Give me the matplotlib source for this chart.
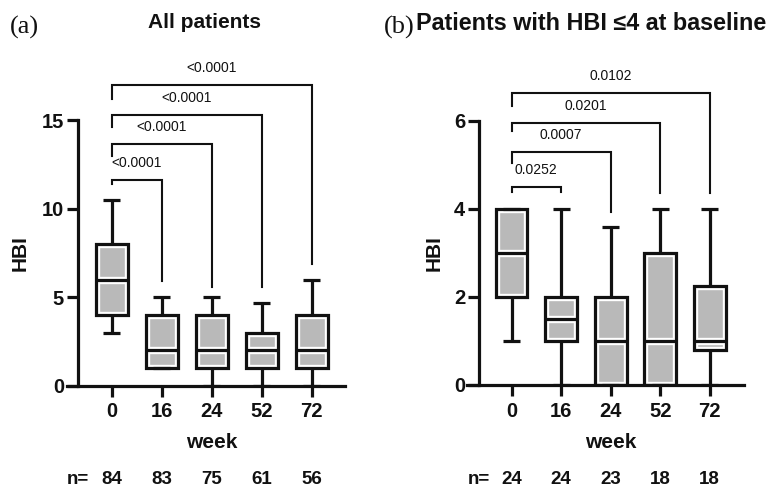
import matplotlib
matplotlib.use('Agg')
import matplotlib.pyplot as plt
import matplotlib.transforms as mtransforms
from matplotlib.patches import PathPatch

plt.rcParams['font.family'] = ['Liberation Sans', 'DejaVu Sans']

# ---------------- data ----------------
weeks = ['0', '16', '24', '52', '72']

a_low = [3, 1, 0, 0, 0]
a_q1 = [4, 1, 1, 1, 1]
a_med = [6, 2, 2, 2, 2]
a_q3 = [8, 4, 4, 3, 4]
a_high = [10.5, 5, 5, 4.7, 6]
a_n = [84, 83, 75, 61, 56]
a_p = ['<0.0001', '<0.0001', '<0.0001', '<0.0001']

b_low = [1, 0, 0, 0, 0]
b_q1 = [2, 1, 0, 0, 0.8]
b_med = [3, 1.5, 1, 1, 1]
b_q3 = [4, 2, 2, 3, 2.25]
b_high = [4, 4, 3.6, 4, 4]
b_n = [24, 24, 23, 18, 18]
b_p = ['0.0252', '0.0007', '0.0201', '0.0102']

# bracket layout (data units)
a_br_y = [11.6, 13.65, 15.3, 17.0]
a_br_left = [11.4, 13.0, 14.6, 16.2]
a_br_right = [5.9, 5.6, 5.6, 6.9]
b_br_y = [4.5, 5.29, 5.95, 6.63]
b_br_left = [4.39, 5.04, 5.77, 6.33]
b_br_right = [4.39, 3.93, 4.36, 4.36]

W, H = 768, 488
fig = plt.figure(figsize=(W / 100, H / 100), dpi=100)

BLACK = '#111111'
GREY = '#b9b9b9'
LW = 2.3
HALO = LW + 3.0


def px(x, y):
    return x / W, 1 - y / H


def panel(rect, low, q1, med, q3, high, n, pvals, bry, brl, brr,
          ymax_spine, ylim_top, yticks, xlim, yspine_x, week_y, n_y):
    ax = fig.add_axes(rect)
    stats = []
    for i in range(len(weeks)):
        stats.append(dict(whislo=low[i], q1=q1[i], med=med[i], q3=q3[i],
                          whishi=high[i], fliers=[]))
    bp = ax.bxp(stats, positions=range(len(weeks)), widths=0.64, capwidths=0.34,
                patch_artist=True, showfliers=False,
                boxprops=dict(facecolor=GREY, edgecolor='white', linewidth=HALO),
                whiskerprops=dict(color=BLACK, linewidth=LW, solid_capstyle='butt'),
                capprops=dict(color=BLACK, linewidth=LW, solid_capstyle='butt'),
                medianprops=dict(color='white', linewidth=HALO, solid_capstyle='butt'))
    for m in bp['medians']:
        m.set_zorder(3)
        xd, yd = m.get_data()
        ax.plot(xd, yd, color=BLACK, lw=LW, solid_capstyle='butt', zorder=3.5)
    for b in bp['boxes']:
        b.set_zorder(1.5)
        ax.add_patch(PathPatch(b.get_path(), fill=False, ec=BLACK, lw=LW,
                               zorder=4, joinstyle='miter'))
    ax.set_xlim(*xlim)
    ax.set_ylim(0, ylim_top)
    for s in ['top', 'right']:
        ax.spines[s].set_visible(False)
    ax.spines['left'].set_position(('data', yspine_x))
    ax.spines['left'].set_bounds(0, ymax_spine)
    for s in ['left', 'bottom']:
        ax.spines[s].set_linewidth(LW)
        ax.spines[s].set_color(BLACK)
        ax.spines[s].set_capstyle('projecting')
    ax.set_yticks(yticks)
    ax.set_xticks(range(len(weeks)))
    ax.set_xticklabels(weeks)
    ax.tick_params(axis='both', length=8, width=LW, color=BLACK,
                   labelsize=14.5, labelcolor=BLACK)
    ax.tick_params(axis='x', pad=4)
    ax.tick_params(axis='y', pad=2)
    for lab in ax.get_xticklabels() + ax.get_yticklabels():
        lab.set_fontweight('bold')

    # brackets
    for i in range(4):
        xr = i + 1
        ax.plot([0, 0, xr, xr], [brl[i], bry[i], bry[i], brr[i]], color=BLACK,
                lw=1.5, clip_on=False, solid_joinstyle='miter', zorder=5)
        ax.annotate(pvals[i], xy=(xr / 2, bry[i]), xytext=(0, 12.3),
                    textcoords='offset points', ha='center', va='center',
                    fontsize=10, color=BLACK, annotation_clip=False)

    tr = mtransforms.blended_transform_factory(ax.transData, fig.transFigure)
    ax.text(2, 1 - week_y / H, 'week', transform=tr, ha='center', va='center',
            fontsize=15, fontweight='bold', color=BLACK)
    ax.text(yspine_x, 1 - n_y / H, 'n=', transform=tr, ha='center', va='center',
            fontsize=13.5, fontweight='bold', color=BLACK)
    for i in range(len(weeks)):
        ax.text(i, 1 - n_y / H, str(n[i]), transform=tr, ha='center', va='center',
                fontsize=13.5, fontweight='bold', color=BLACK)
    return ax


# panel (a)
y0a = 385.7
unit_a = 17.7
top_a = 18
ax1 = panel([67 / W, (H - y0a) / H, 278 / W, top_a * unit_a / H],
            a_low, a_q1, a_med, a_q3, a_high, a_n, a_p, a_br_y, a_br_left, a_br_right,
            15, top_a, [0, 5, 10, 15], (-0.89, 4.67), -0.67, 443, 479)

# panel (b)
y0b = 385.0
unit_b = 44.0
top_b = 7
ax2 = panel([467 / W, (H - y0b) / H, 277 / W, top_b * unit_b / H],
            b_low, b_q1, b_med, b_q3, b_high, b_n, b_p, b_br_y, b_br_left, b_br_right,
            6, top_b, [0, 2, 4, 6], (-0.90, 4.69), -0.66, 443, 479)

# titles and labels
fig.text(*px(10, 27), '(a)', ha='left', va='center', fontsize=19,
         family=['Liberation Serif', 'DejaVu Serif'], color=BLACK)
fig.text(*px(384, 27), '(b)', ha='left', va='center', fontsize=19,
         family=['Liberation Serif', 'DejaVu Serif'], color=BLACK)
fig.text(*px(205, 23), 'All patients', ha='center', va='center', fontsize=15,
         fontweight='bold', color=BLACK)
fig.text(*px(416, 23), 'Patients with HBI ≤4 at baseline', ha='left', va='center',
         fontsize=16.8, fontweight='bold', color=BLACK)
fig.text(*px(20, 253), 'HBI', rotation=90, ha='center', va='center', fontsize=15,
         fontweight='bold', color=BLACK)
fig.text(*px(434, 253), 'HBI', rotation=90, ha='center', va='center', fontsize=15,
         fontweight='bold', color=BLACK)

fig.savefig('out.png', dpi=100)
